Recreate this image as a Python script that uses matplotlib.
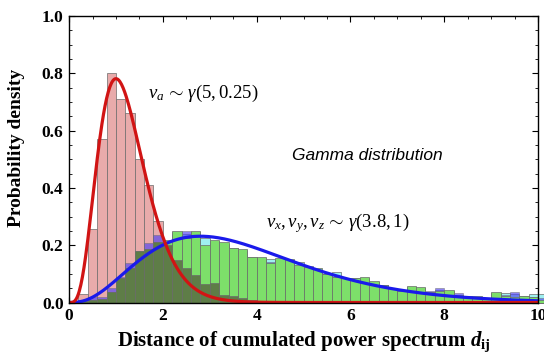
import math
import numpy as np
import matplotlib
matplotlib.use("Agg")
import matplotlib.pyplot as plt
from matplotlib.ticker import MultipleLocator

# ---------------- data ----------------
bin_width = 0.2
# v_a histogram (pink)
pink = [0.0, 0.029, 0.256, 0.57, 0.80, 0.71, 0.66, 0.50, 0.41, 0.286,
        0.20, 0.15, 0.12, 0.097, 0.064, 0.067, 0.027, 0.023, 0.015, 0.008,
        0.004, 0.003, 0, 0, 0, 0, 0, 0, 0, 0,
        0, 0, 0, 0, 0, 0, 0, 0, 0, 0,
        0, 0, 0, 0, 0, 0, 0, 0, 0, 0, 0]
# v_z histogram (green)
green = [0.002, 0.006, 0.010, 0.012, 0.038, 0.085, 0.120, 0.180, 0.186, 0.212,
         0.220, 0.250, 0.225, 0.248, 0.200, 0.219, 0.213, 0.192, 0.187, 0.160,
         0.158, 0.137, 0.155, 0.152, 0.130, 0.123, 0.120, 0.100, 0.090, 0.085,
         0.087, 0.088, 0.075, 0.062, 0.050, 0.040, 0.058, 0.053, 0.038, 0.040,
         0.044, 0.027, 0.024, 0.021, 0.017, 0.038, 0.022, 0.020, 0.024, 0.018, 0.010]
# v_x histogram (blue)
blue = [0.003, 0.008, 0.018, 0.019, 0.052, 0.088, 0.137, 0.175, 0.207, 0.234,
        0.210, 0.240, 0.250, 0.240, 0.190, 0.210, 0.200, 0.185, 0.180, 0.155,
        0.150, 0.140, 0.150, 0.145, 0.120, 0.118, 0.115, 0.098, 0.088, 0.083,
        0.080, 0.082, 0.070, 0.060, 0.052, 0.045, 0.050, 0.050, 0.040, 0.052,
        0.035, 0.033, 0.020, 0.020, 0.015, 0.030, 0.025, 0.036, 0.020, 0.020, 0.015]
# v_y histogram (cyan)
cyan = [0.002, 0.005, 0.009, 0.011, 0.035, 0.080, 0.115, 0.170, 0.180, 0.205,
        0.215, 0.245, 0.240, 0.245, 0.225, 0.215, 0.205, 0.190, 0.182, 0.158,
        0.155, 0.151, 0.150, 0.150, 0.140, 0.128, 0.115, 0.098, 0.105, 0.082,
        0.085, 0.085, 0.072, 0.060, 0.048, 0.042, 0.055, 0.050, 0.036, 0.045,
        0.040, 0.025, 0.022, 0.020, 0.016, 0.032, 0.033, 0.030, 0.022, 0.029, 0.030]

gamma_a = (5, 0.25)     # shape, scale
gamma_xyz = (3.8, 1.0)

x_ticks = [0, 2, 4, 6, 8, 10]
y_ticks = [0.0, 0.2, 0.4, 0.6, 0.8, 1.0]

# ---------------- style ----------------
plt.rcParams['mathtext.fontset'] = 'custom'
plt.rcParams['mathtext.rm'] = 'Liberation Serif'
plt.rcParams['mathtext.it'] = 'Liberation Serif:italic'
plt.rcParams['mathtext.bf'] = 'Liberation Serif:bold'
try:
    plt.rcParams['mathtext.bfit'] = 'Liberation Serif:bold:italic'
except KeyError:
    pass

fig = plt.figure(figsize=(5.44, 3.58), dpi=100)
ax = fig.add_axes([0.127, 0.155, 0.862, 0.80])

n = len(green)
lefts = np.arange(n) * bin_width
pink_a = np.array(pink)
green_a = np.array(green)
blue_a = np.array(blue)
cyan_a = np.array(cyan)
overlap = np.minimum(pink_a, green_a)

edge = dict(edgecolor=(0.42, 0.42, 0.42), linewidth=0.5, align='edge', width=bin_width, clip_on=False)
ax.bar(lefts, pink_a, color='#e8abab', zorder=1, **edge)
ax.bar(lefts, cyan_a, color='#9ff0f0', zorder=2, **edge)
ax.bar(lefts, blue_a, color=(0.30, 0.25, 0.95), alpha=0.65, zorder=3, **edge)
ax.bar(lefts, green_a, color='#7ddf6a', zorder=4, **edge)
ax.bar(lefts, overlap, color='#5e7d47', zorder=5, **edge)

def gamma_pdf(x, k, theta):
    return x ** (k - 1) * np.exp(-x / theta) / (math.gamma(k) * theta ** k)

xs = np.linspace(0, 10, 600)
ax.plot(xs, gamma_pdf(xs, *gamma_xyz), color=(0.1, 0.1, 0.92), lw=2.3, zorder=7)
ax.plot(xs, gamma_pdf(xs, *gamma_a), color=(0.82, 0.08, 0.08), lw=2.3, zorder=8)

ax.set_xlim(0, 10)
ax.set_ylim(0, 1.0)
ax.set_xticks(x_ticks)
ax.set_yticks(y_ticks)
ax.set_xticklabels([str(t) for t in x_ticks])
ax.set_yticklabels([f"{t:.1f}" for t in y_ticks])
ax.xaxis.set_minor_locator(MultipleLocator(0.5))
ax.yaxis.set_minor_locator(MultipleLocator(0.05))
ax.tick_params(which='both', direction='in', top=True, right=True)
ax.tick_params(which='major', length=4, width=0.8, pad=4)
ax.tick_params(which='minor', length=2, width=0.6)
for lab in ax.get_xticklabels() + ax.get_yticklabels():
    lab.set_fontfamily('Liberation Serif')
    lab.set_fontweight('bold')
    lab.set_fontsize(12.5)
for sp in ax.spines.values():
    sp.set_linewidth(1.0)
    sp.set_zorder(10)

ax.set_ylabel('Probability density', family='Liberation Serif', weight='bold', fontsize=14, labelpad=6)
ax.yaxis.set_label_coords(-0.093, 0.54)
ax.set_xlabel(r'Distance of cumulated power spectrum $\mathbfit{d}_{\mathbf{ij}}$',
              family='Liberation Serif', weight='bold', fontsize=15, labelpad=4)

ax.text(1.68, 0.715, r'$v_a\,\sim\,\gamma(5,0.25)$', fontsize=13.5, zorder=9)
ax.text(4.2, 0.262, r'$v_x, v_y, v_z\,\sim\,\gamma(3.8,1)$', fontsize=13.5, zorder=9)
ax.text(6.37, 0.515, 'Gamma distribution', family='Liberation Sans', style='italic',
        fontsize=12.5, ha='center', va='center', zorder=9)

fig.savefig('out.png', dpi=100)
